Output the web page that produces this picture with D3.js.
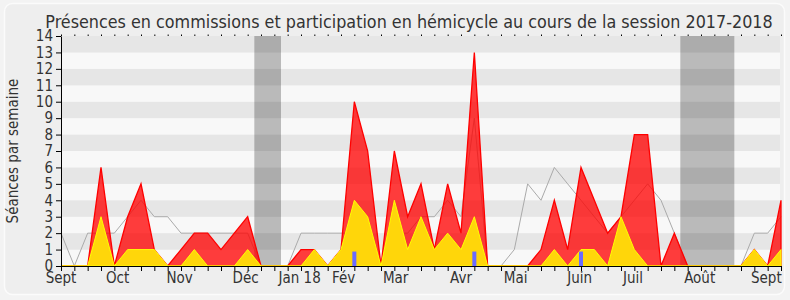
<!DOCTYPE html>
<html>
<head>
<meta charset="utf-8">
<script src="https://cdn.jsdelivr.net/npm/d3@7"></script>
<style>
  html, body { margin: 0; padding: 0; background: #f3f3f3; }
  svg text { font-family: "DejaVu Sans Condensed", "DejaVu Sans", sans-serif; fill: #333; }
</style>
</head>
<body>
<svg id="chart" width="790" height="300"></svg>
<script>
// weekly values, session 2017-2018 (55 weeks)
const presences = [0,0,0,6,0,3,5,1,0,1,2,2,1,2,3,0,0,0,1,1,0,1,10,7,0,7,3,5,1,5,2,13,0,0,0,0,1,4,1,6,4,2,3,8,8,0,2,0,0,0,0,0,1,0,4]
const hemicycle = [0,0,0,3,0,1,1,1,0,0,1,0,0,0,1,0,0,0,0,1,0,1,4,3,0,4,1,3,1,2,1,3,0,0,0,0,0,1,0,1,1,0,3,1,0,0,0,0,0,0,0,0,1,0,1]
const mediane = [2,0,2,2,2,3,4,3,3,2,2,2,2,2,2,0,0,0,2,2,2,2,2,2,0,2,2,3,3,4,3,9,0,0,1,5,4,6,5,4,3,2,3,4,5,4,2,0,0,0,0,0,2,2,3]
const questions = [0,0,0,0,0,0,0,0,0,0,0,0,0,0,0,0,0,0,0,0,0,0,1,0,0,0,0,0,0,0,0,1,0,0,0,0,0,0,0,1,0,0,0,0,0,0,0,0,0,0,0,0,0,0,0]

// vacances parlementaires (en semaines)
const vacStart = [14.5, 46.45]
const vacEnd = [16.5, 50.5]

// mois
const monthLabels = ['Sept','Oct','Nov','Déc','Jan 18','Fév','Mar','Avr','Mai','Juin','Juil','Août','Sept']
const monthPos = [0, 4.25, 8.9, 13.85, 17.9, 21.2, 25.1, 30.0, 34.1, 38.9, 42.9, 47.9, 52.9]

const yTicks = d3.range(0, 15)

const svg = d3.select('#chart')
const mLeft = 61, mRight = 781, mTop = 36, mBottom = 266

const x = d3.scaleLinear().domain([0, presences.length - 1]).range([mLeft, mRight])
const y = d3.scaleLinear().domain([0, 14]).range([mBottom, mTop])

//frame
svg.append('rect')
    .attr('x', 4.5).attr('y', 3.5)
    .attr('width', 780).attr('height', 291)
    .attr('rx', 8)
    .style('fill', '#eeeeee')
    .style('stroke', '#fbfbfb')
    .style('stroke-width', 1.5)

//stripes
svg.append('g').selectAll('rect')
    .data(d3.range(0, 14))
    .enter().append('rect')
    .attr('x', mLeft)
    .attr('width', mRight - 1 - mLeft)
    .attr('y', d => y(d + 1))
    .attr('height', d => y(d) - y(d + 1))
    .style('fill', d => d % 2 ? '#e6e6e6' : '#f8f8f8')

//vacances
svg.append('g').selectAll('rect')
    .data(vacStart)
    .enter().append('rect')
    .attr('x', d => x(d))
    .attr('width', (d, i) => x(vacEnd[i]) - x(d))
    .attr('y', y(14))
    .attr('height', y(0) - y(14))
    .style('fill', '#000')
    .style('fill-opacity', 0.25)

//median line
const line = d3.line().x((d, i) => x(i)).y(d => y(d))
svg.append('path')
    .attr('d', line(mediane))
    .style('fill', 'none')
    .style('stroke', '#aaaaaa')
    .style('stroke-width', 1)

const area = d3.area().x((d, i) => x(i)).y0(y(0)).y1(d => y(d))

svg.append('path')
    .attr('d', area(presences))
    .style('fill', 'rgba(255,0,0,0.76)')
    .style('stroke', '#ff0000')
    .style('stroke-width', 1.3)

svg.append('path')
    .attr('d', area(hemicycle))
    .style('fill', '#ffd60a')
    .style('stroke', '#ffff00')
    .style('stroke-width', 1)

//questions orales
svg.append('g').selectAll('rect')
    .data(questions.map((v, i) => ({v, i})).filter(d => d.v > 0))
    .enter().append('rect')
    .attr('x', d => x(d.i) - 2)
    .attr('width', 4)
    .attr('y', d => y(d.v) + 2)
    .attr('height', d => y(0) - y(d.v) - 2)
    .style('fill', '#6b6bff')

//axes
const xAxis = svg.append('g')
    .attr('transform', `translate(0,${mBottom})`)
    .call(d3.axisBottom(x).tickValues(d3.range(0, presences.length)).tickFormat('').tickSize(5).tickSizeOuter(0))
xAxis.select('.domain').attr('stroke', '#000')

const topAxis = svg.append('g')
    .attr('transform', `translate(0,${mTop})`)
    .call(d3.axisTop(x).tickValues(d3.range(0, presences.length)).tickFormat('').tickSize(1.5).tickSizeOuter(0))
topAxis.select('.domain').remove()

const yAxis = svg.append('g')
    .attr('transform', `translate(${mLeft},0)`)
    .call(d3.axisLeft(y).tickValues(yTicks).tickSize(5).tickSizeOuter(0).tickPadding(3))
yAxis.selectAll('text').style('font-size', '15px').style('fill', '#333')

svg.append('g').selectAll('text')
    .data(monthLabels)
    .enter().append('text')
    .attr('x', (d, i) => x(monthPos[i]))
    .attr('y', 283)
    .attr('text-anchor', 'middle')
    .style('font-size', '15px')
    .text(d => d)

svg.append('text')
    .attr('transform', `translate(18,${(mTop + mBottom) / 2}) rotate(-90)`)
    .attr('text-anchor', 'middle')
    .style('font-size', '15px')
    .text('Séances par semaine')

const title = svg.append('text')
    .attr('x', 409)
    .attr('y', 28)
    .attr('text-anchor', 'middle')
    .style('font-size', '17px')
    .text('Présences en commissions et participation en hémicycle au cours de la session 2017-2018')
// fit title width to reference
const tw = title.node().getComputedTextLength()
title.style('font-size', (17 * 728 / tw).toFixed(2) + 'px')
</script>
</body>
</html>
